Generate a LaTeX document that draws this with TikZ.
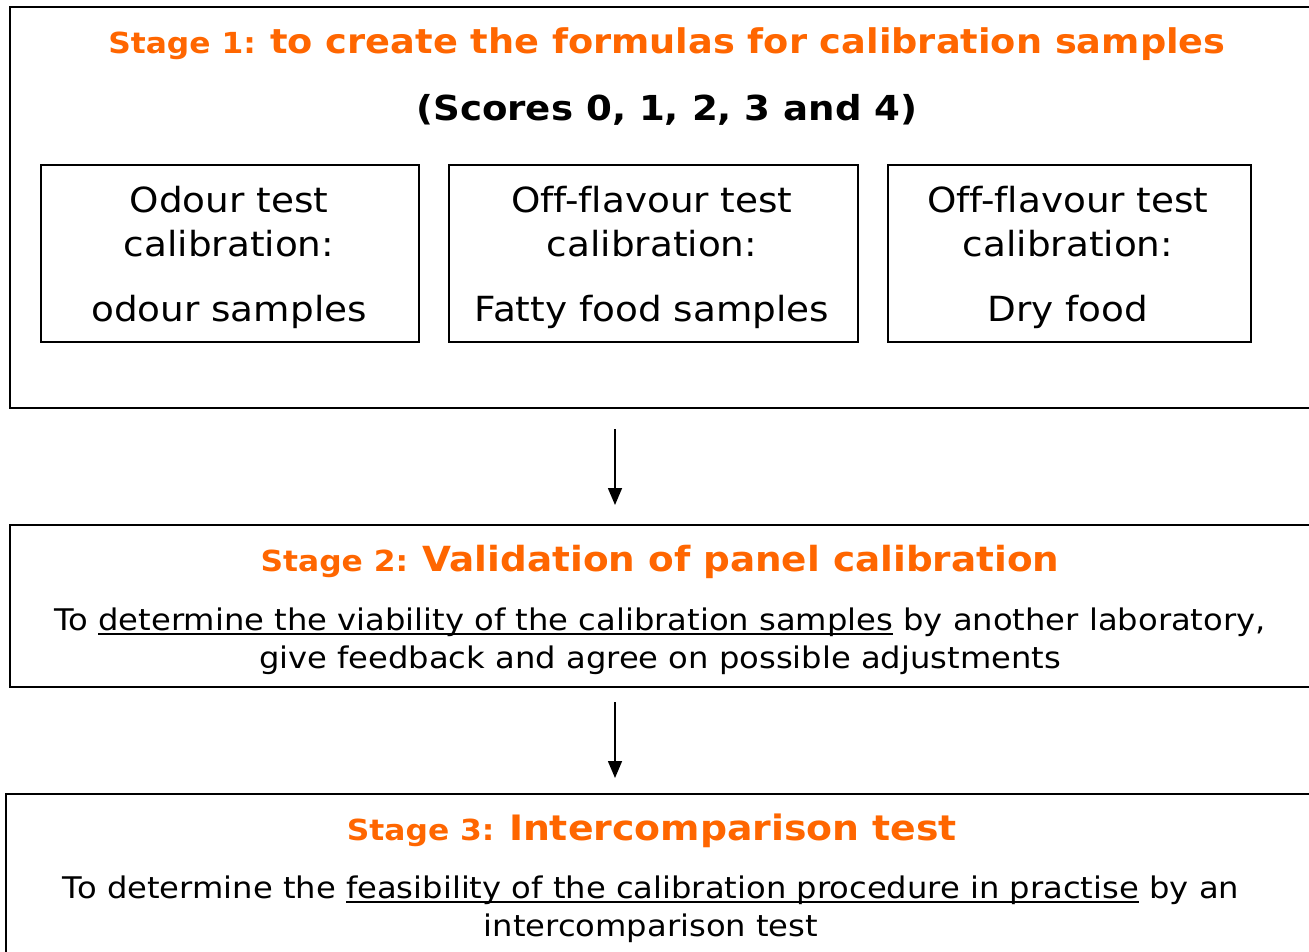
\documentclass[tikz,border=0pt]{standalone}
\usepackage{fontspec}
\setmainfont{DejaVu Sans}[FakeStretch=1.08,Ligatures=NoCommon]
\usetikzlibrary{arrows.meta}
\definecolor{stageorange}{HTML}{FF6600}
% underline drawn as a rule just under the baseline
\newcommand\lineunder[1]{\setbox0\hbox{#1}\rlap{\rule[-5pt]{\wd0}{1.8pt}}\box0{}}
\begin{document}
\begin{tikzpicture}[x=1pt,y=-1pt,
  frame/.style={draw=black,line width=2pt,anchor=north west,inner sep=0pt},
  cell/.style={draw=black,line width=1.6pt,anchor=north west,inner sep=0pt},
  celltext/.style={align=center,font=\fontsize{34.6}{44}\selectfont,inner sep=0pt},
  title/.style={text=stageorange,font=\bfseries,inner sep=0pt},
  body/.style={align=center,font=\fontsize{29.8}{38}\selectfont,inner sep=0pt},
  arr/.style={line width=1.6pt,-{Triangle[length=17pt,width=14pt]}}]
\useasboundingbox (0,0) rectangle (1309,952);
\clip (0,0) rectangle (1309,952);

% stage frames (they run past the right edge)
\node[frame,minimum width=1320pt,minimum height=401pt] (s1) at (9,6) {};
\node[frame,minimum width=1320pt,minimum height=162pt] (s2) at (9,524) {};
\node[frame,minimum width=1320pt,minimum height=200pt] (s3) at (5,793) {};

% stage 1 heading
\node[title] (t1) at (667,44) {\fontsize{29}{34}\selectfont Stage 1: \fontsize{34}{40}\selectfont to create the formulas for calibration samples};
\node[inner sep=0pt,font=\bfseries\fontsize{34.4}{40}\selectfont] (sc) at (667,110) {(Scores 0, 1, 2, 3 and 4)};

% calibration cells
\node[cell,minimum width=378pt,minimum height=177pt] (c1) at (40,164) {};
\node[cell,minimum width=409pt,minimum height=177pt] (c2) at (448,164) {};
\node[cell,minimum width=363pt,minimum height=177pt] (c3) at (887,164) {};
\node[celltext] (c1a) at (229,222) {Odour test\\calibration:};
\node[celltext] (c1b) at (229,312) {odour samples};
\node[celltext] (c2a) at (652,222) {Off-flavour test\\calibration:};
\node[celltext] (c2b) at (652,312) {Fatty food samples};
\node[celltext] (c3a) at (1068,222) {Off-flavour test\\calibration:};
\node[celltext] (c3b) at (1068,312) {Dry food};

% stage 2
\node[title] (t2) at (660,562) {\fontsize{29}{34}\selectfont Stage 2: \fontsize{34.6}{40}\selectfont Validation of panel calibration};
\node[body] (b2) at (660,641) {To \lineunder{determine the viability of the calibration samples} by another laboratory,\\give feedback and agree on possible adjustments};

% stage 3
\node[title] (t3) at (652,831) {\fontsize{29}{34}\selectfont Stage 3: \fontsize{35}{40}\selectfont Intercomparison test};
\node[body] (b3) at (651,909) {To determine the \lineunder{feasibility of the calibration procedure in practise} by an\\intercomparison test};

% connectors
\coordinate (a1) at (615,429);
\coordinate (a2) at (615,505);
\coordinate (a3) at (615,702);
\coordinate (a4) at (615,778);
\draw[arr] (a1) -- (a2);
\draw[arr] (a3) -- (a4);
\end{tikzpicture}
\end{document}
